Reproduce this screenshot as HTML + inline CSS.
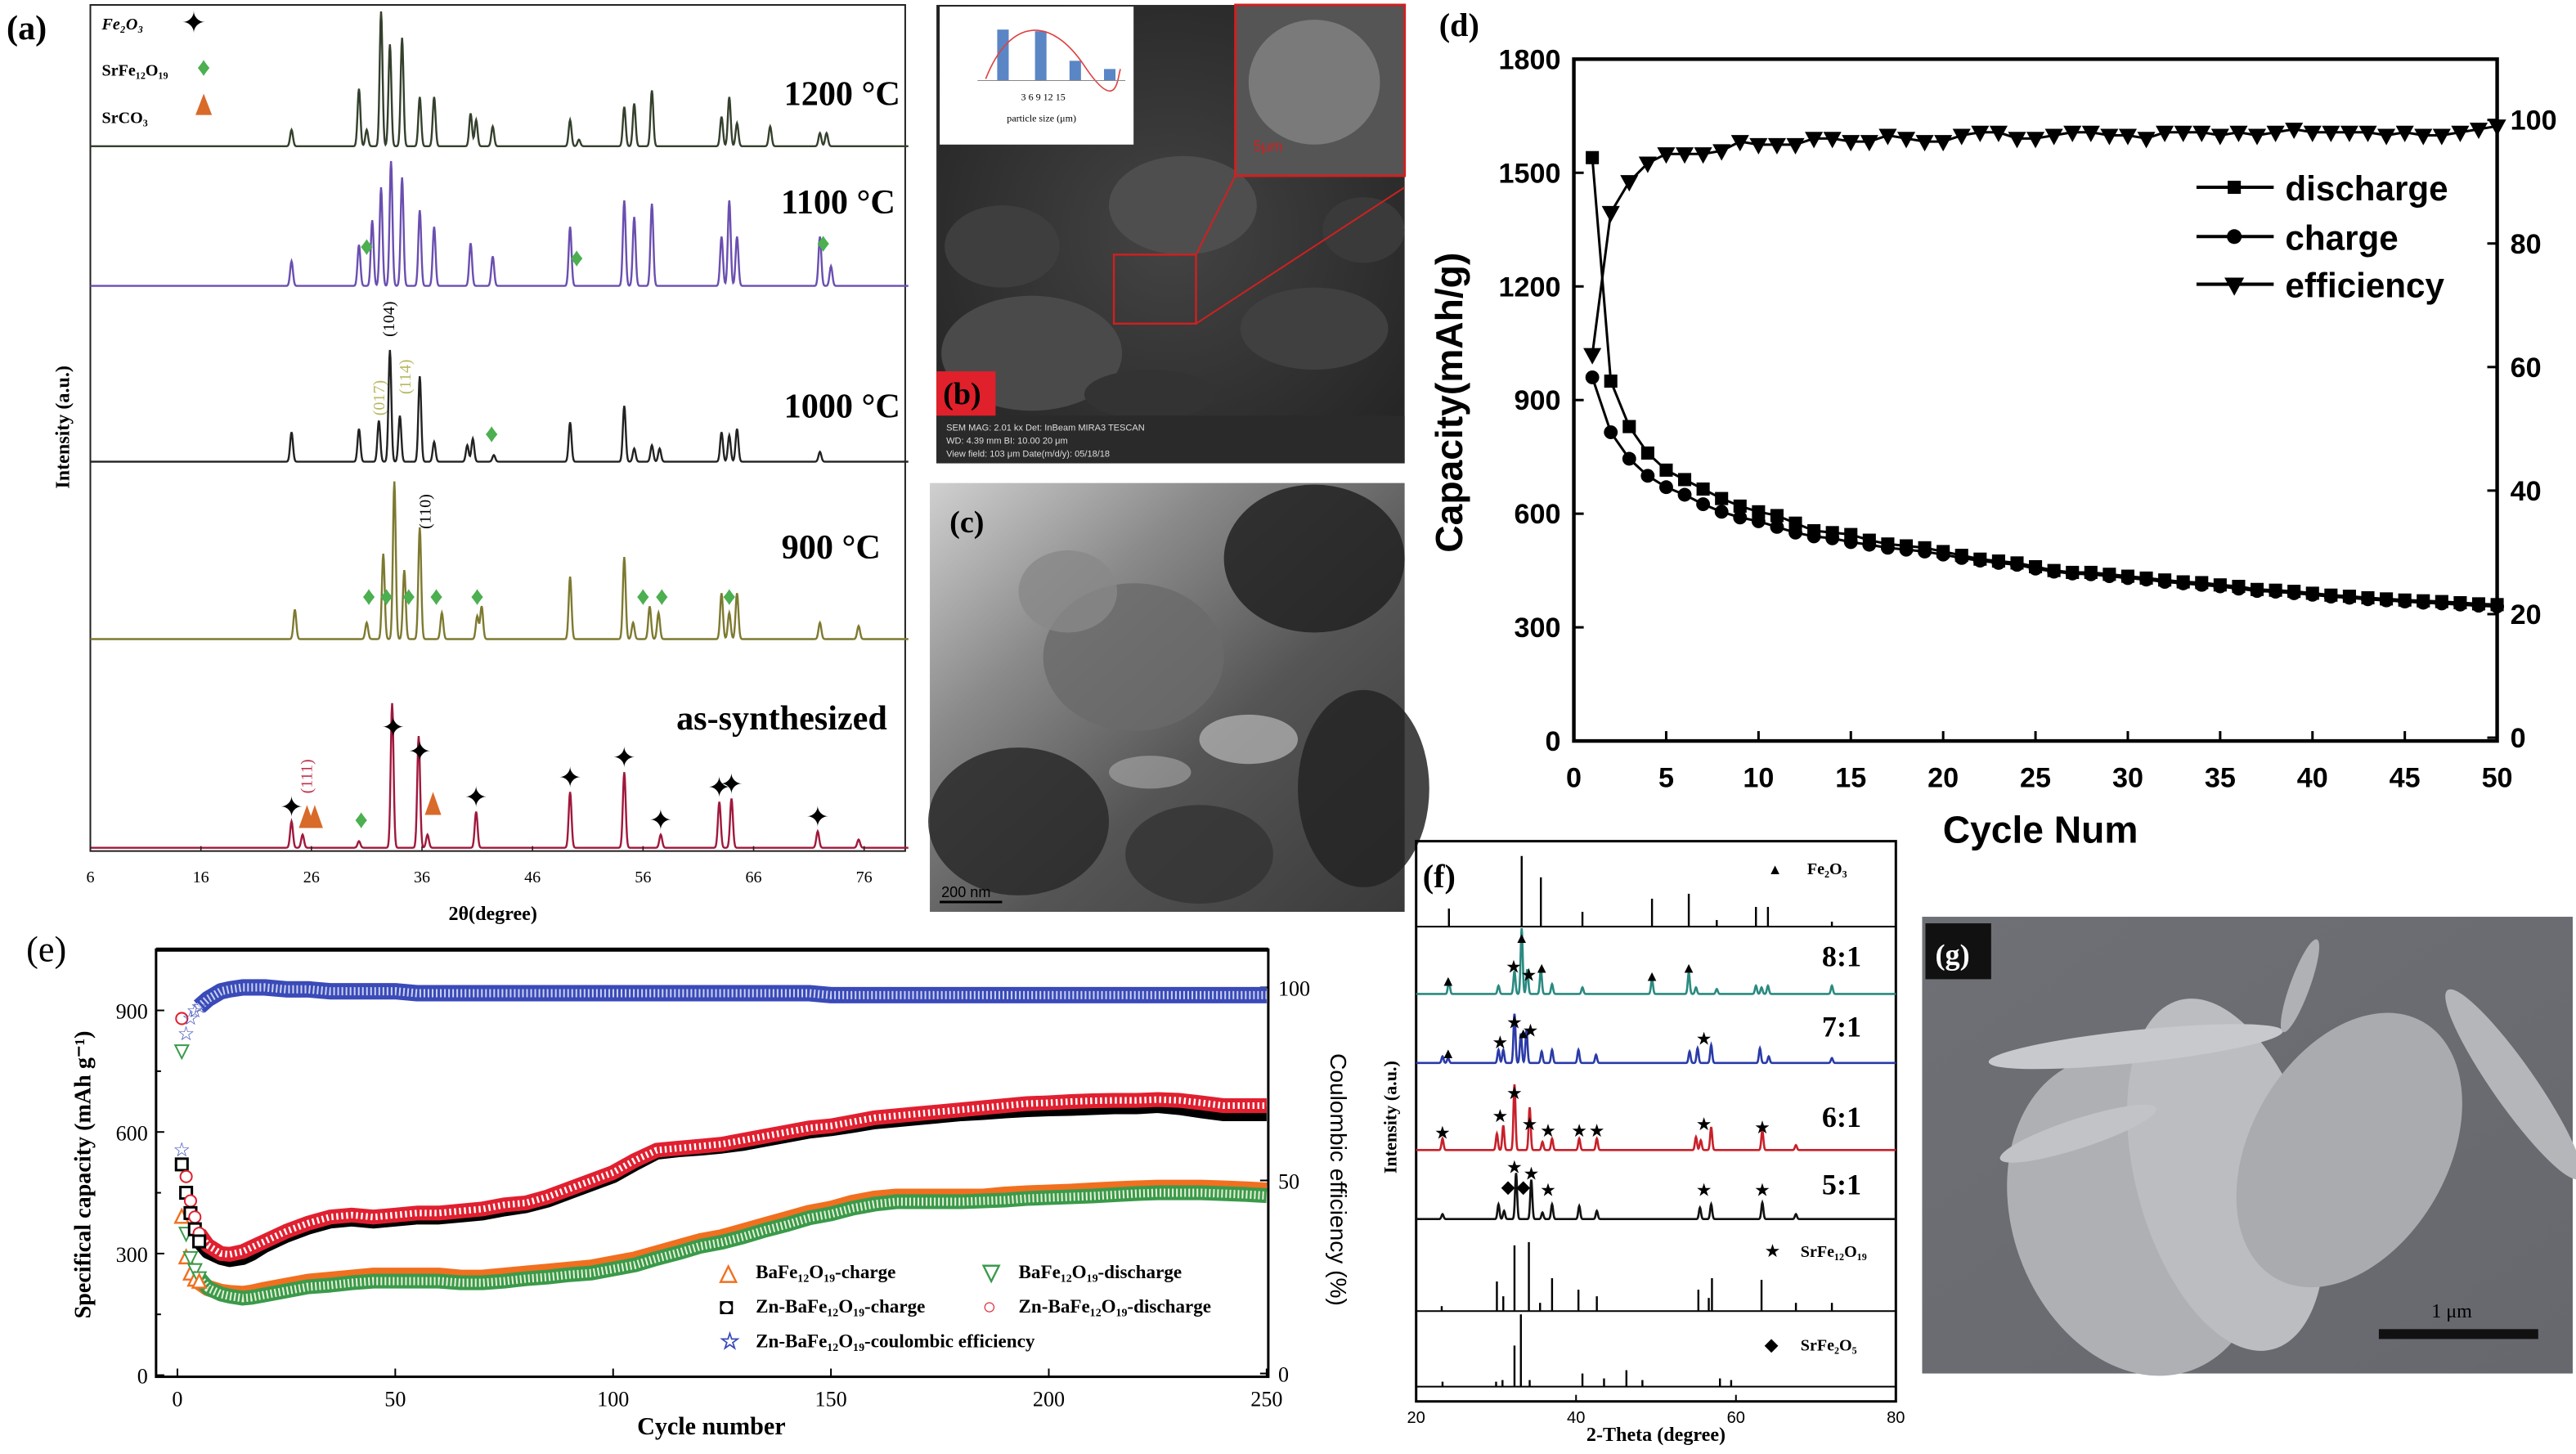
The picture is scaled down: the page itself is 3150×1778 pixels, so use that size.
<!DOCTYPE html>
<html><head><meta charset="utf-8">
<style>
html,body{margin:0;padding:0;background:#fff;}
svg{display:block;}
text{font-family:"Liberation Serif",serif;}
.sans{font-family:"Liberation Sans",sans-serif;}
</style></head>
<body>
<svg id="fig" xmlns="http://www.w3.org/2000/svg" width="3150" height="1778" viewBox="0 0 1568 885" preserveAspectRatio="none">
<rect x="0" y="0" width="1568" height="885" fill="#fff"/>

<g id="pa">
<text x="4" y="24" font-size="21" font-weight="bold">(a)</text>
<rect x="55" y="3" width="496" height="515" fill="none" stroke="#222" stroke-width="1"/>
<text x="42" y="260" font-size="12" font-weight="bold" transform="rotate(-90 42 260)" text-anchor="middle">Intensity (a.u.)</text>
<text x="300" y="560" font-size="12" font-weight="bold" text-anchor="middle">2θ(degree)</text>
<text x="548" y="64" font-size="21" font-weight="bold" text-anchor="end">1200 °C</text>
<text x="545" y="130" font-size="21" font-weight="bold" text-anchor="end">1100 °C</text>
<text x="548" y="254" font-size="21" font-weight="bold" text-anchor="end">1000 °C</text>
<text x="536" y="340" font-size="21" font-weight="bold" text-anchor="end">900 °C</text>
<text x="540" y="444" font-size="21" font-weight="bold" text-anchor="end">as-synthesized</text>
<text x="62" y="18" font-size="10" font-style="italic" font-weight="bold">Fe₂O₃</text>
<text x="62" y="46" font-size="10" font-weight="bold">SrFe₁₂O₁₉</text>
<text x="62" y="75" font-size="10" font-weight="bold">SrCO₃</text>
<text x="240" y="205" font-size="10" transform="rotate(-90 240 205)">(104)</text>
<text x="234" y="253" font-size="10" fill="#b8b860" transform="rotate(-90 234 253)">(017)</text>
<text x="250" y="240" font-size="10" fill="#b8b860" transform="rotate(-90 250 240)">(114)</text>
<text x="262" y="322" font-size="10" transform="rotate(-90 262 322)">(110)</text>
<text x="190" y="483" font-size="10" fill="#c0304a" transform="rotate(-90 190 483)">(111)</text>
</g>

<g>
<defs>
<radialGradient id="gb" cx="0.5" cy="0.5" r="0.7"><stop offset="0" stop-color="#444"/><stop offset="1" stop-color="#222"/></radialGradient>
<linearGradient id="gc" x1="0" y1="0" x2="1" y2="1"><stop offset="0" stop-color="#d0d0d0"/><stop offset="0.3" stop-color="#8a8a8a"/><stop offset="0.6" stop-color="#555"/><stop offset="1" stop-color="#3a3a3a"/></linearGradient>
<linearGradient id="gg" x1="0" y1="0" x2="1" y2="1"><stop offset="0" stop-color="#6e7076"/><stop offset="1" stop-color="#66686e"/></linearGradient>
</defs>
<rect x="570" y="3" width="285" height="279" fill="url(#gb)"/>
<ellipse cx="628" cy="215" rx="55" ry="35" fill="#4a4a4a"/>
<ellipse cx="720" cy="125" rx="45" ry="30" fill="#4e4e4e"/>
<ellipse cx="610" cy="150" rx="35" ry="25" fill="#3e3e3e"/>
<ellipse cx="800" cy="200" rx="45" ry="25" fill="#404040"/>
<ellipse cx="830" cy="140" rx="25" ry="20" fill="#3a3a3a"/>
<ellipse cx="700" cy="240" rx="40" ry="15" fill="#333"/>
<rect x="752" y="3" width="103" height="104" fill="#555" stroke="#d02020" stroke-width="1.5"/>
<ellipse cx="800" cy="50" rx="40" ry="38" fill="#7a7a7a"/>
<rect x="678" y="155" width="50" height="42" fill="none" stroke="#d02020" stroke-width="1.2"/>
<line x1="728" y1="155" x2="752" y2="107" stroke="#d02020" stroke-width="1"/>
<line x1="728" y1="197" x2="855" y2="114" stroke="#d02020" stroke-width="1"/>
<text x="763" y="92" font-size="9" fill="#d02020" class="sans">5μm</text>
<rect x="572" y="4" width="118" height="84" fill="#fff"/>
<rect x="607" y="18" width="7" height="31" fill="#5b86c5"/><rect x="630" y="19" width="7" height="30" fill="#5b86c5"/><rect x="651" y="37" width="7" height="12" fill="#5b86c5"/><rect x="672" y="42" width="7" height="7" fill="#5b86c5"/>
<path d="M600 48 C615 10,640 10,660 40 S680 48,682 42" fill="none" stroke="#e04040" stroke-width="0.8"/>
<line x1="595" y1="49" x2="685" y2="49" stroke="#888" stroke-width="0.5"/>
<text x="634" y="74" font-size="6" text-anchor="middle">particle size (μm)</text>
<text x="635" y="61" font-size="6" text-anchor="middle">3      6      9     12    15</text>
<rect x="570" y="253" width="285" height="29" fill="#2a2a2a"/>
<text x="576" y="262" font-size="5.5" fill="#ddd" class="sans">SEM MAG: 2.01 kx     Det: InBeam                                   MIRA3 TESCAN</text>
<text x="576" y="270" font-size="5.5" fill="#ddd" class="sans">WD: 4.39 mm          BI: 10.00           20 μm</text>
<text x="576" y="278" font-size="5.5" fill="#ddd" class="sans">View field: 103 μm   Date(m/d/y): 05/18/18</text>
<rect x="570" y="226" width="36" height="27" fill="#e0202a"/>
<text x="574" y="246" font-size="19" font-weight="bold">(b)</text>
</g>

<g>
<rect x="566" y="294" width="289" height="261" fill="url(#gc)"/>
<ellipse cx="690" cy="400" rx="55" ry="45" fill="#6a6a6a" opacity="0.8"/>
<ellipse cx="800" cy="340" rx="55" ry="45" fill="#222" opacity="0.85"/>
<ellipse cx="620" cy="500" rx="55" ry="45" fill="#2a2a2a" opacity="0.85"/>
<ellipse cx="830" cy="480" rx="40" ry="60" fill="#252525" opacity="0.85"/>
<ellipse cx="730" cy="520" rx="45" ry="30" fill="#333" opacity="0.8"/>
<ellipse cx="650" cy="360" rx="30" ry="25" fill="#888" opacity="0.8"/>
<ellipse cx="760" cy="450" rx="30" ry="15" fill="#ccc" opacity="0.6"/>
<ellipse cx="700" cy="470" rx="25" ry="10" fill="#bbb" opacity="0.5"/>
<text x="578" y="324" font-size="19" font-weight="bold">(c)</text>
<line x1="572" y1="549" x2="610" y2="549" stroke="#000" stroke-width="1.5"/>
<text x="573" y="546" font-size="9" class="sans">200 nm</text>
</g>

<g>
<rect x="1170" y="558" width="396" height="278" fill="url(#gg)"/>
<ellipse cx="1300" cy="740" rx="75" ry="100" fill="#aeb0b4" transform="rotate(-20 1300 740)"/>
<ellipse cx="1355" cy="715" rx="55" ry="110" fill="#bcbdc0" transform="rotate(-15 1355 715)"/>
<ellipse cx="1430" cy="700" rx="60" ry="90" fill="#a9abaf" transform="rotate(30 1430 700)"/>
<ellipse cx="1300" cy="637" rx="90" ry="10" fill="#c8c9cc" transform="rotate(-6 1300 637)"/>
<ellipse cx="1265" cy="690" rx="50" ry="9" fill="#c2c3c6" transform="rotate(-18 1265 690)"/>
<ellipse cx="1530" cy="660" rx="70" ry="13" fill="#b5b6b9" transform="rotate(55 1530 660)"/>
<ellipse cx="1400" cy="600" rx="30" ry="6" fill="#b0b1b4" transform="rotate(-70 1400 600)"/>
<rect x="1172" y="562" width="40" height="34" fill="#111"/>
<text x="1178" y="587" font-size="18" fill="#fff" font-weight="bold">(g)</text>
<text x="1480" y="802" font-size="12">1 μm</text>
<rect x="1448" y="809" width="97" height="6" fill="#111"/>
</g>

<g id="pd">
<text x="876" y="22" font-size="20" font-weight="bold">(d)</text>
<rect x="958" y="36" width="562" height="415" fill="none" stroke="#000" stroke-width="2.2"/>
<text x="890" y="245" font-size="23" font-weight="bold" class="sans" transform="rotate(-90 890 245)" text-anchor="middle">Capacity(mAh/g)</text>
<text x="1242" y="513" font-size="23" font-weight="bold" class="sans" text-anchor="middle">Cycle Num</text>
</g>

<g id="pe">
<text x="16" y="585" font-size="22">(e)</text>
<rect x="95" y="578" width="677" height="260" fill="none" stroke="#000" stroke-width="1.5"/>
<line x1="95" y1="578" x2="772" y2="578" stroke="#000" stroke-width="2.5"/>
<text x="55" y="715" font-size="14" font-weight="bold" transform="rotate(-90 55 715)" text-anchor="middle">Specifical capacity (mAh g⁻¹)</text>
<text x="810" y="718" font-size="14" class="sans" transform="rotate(90 810 718)" text-anchor="middle">Coulombic efficiency (%)</text>
<text x="433" y="873" font-size="15" font-weight="bold" text-anchor="middle">Cycle number</text>
</g>

<g id="pf">
<rect x="862" y="512" width="292" height="341" fill="none" stroke="#000" stroke-width="1.5"/>
<text x="866" y="540" font-size="20" font-weight="bold">(f)</text>
<text x="850" y="680" font-size="11" font-weight="bold" transform="rotate(-90 850 680)" text-anchor="middle">Intensity (a.u.)</text>
<text x="1008" y="877" font-size="12" font-weight="bold" text-anchor="middle">2-Theta (degree)</text>
<text x="1100" y="532" font-size="10" font-weight="bold">Fe₂O₃</text>
<text x="1076" y="532" font-size="9">▲</text>
<text x="1096" y="765" font-size="10" font-weight="bold">SrFe₁₂O₁₉</text>
<text x="1074" y="765" font-size="11">★</text>
<text x="1096" y="822" font-size="10" font-weight="bold">SrFe₂O₅</text>
<text x="1074" y="822" font-size="11">◆</text>
<text x="1133" y="588" font-size="18" font-weight="bold" text-anchor="end">8:1</text>
<text x="1133" y="631" font-size="18" font-weight="bold" text-anchor="end">7:1</text>
<text x="1133" y="686" font-size="18" font-weight="bold" text-anchor="end">6:1</text>
<text x="1133" y="727" font-size="18" font-weight="bold" text-anchor="end">5:1</text>
</g>
</svg>
<script>
// ===== Panel a data =====
const aTicks = [6,16,26,36,46,56,66,76];
const a1200Pos = [24.2,30.3,31,32.3,33.1,34.2,35.8,37.1,40.4,40.9,42.4,49.4,50.2,54.3,55.2,56.8,63.1,63.8,64.5,67.5,72,72.6];
const a1200H   = [10,35,10,82,62,66,30,30,20,16,12,16,4,24,26,34,18,30,14,12,8,8];
const a1100Pos = [24.2,30.3,31.5,32.3,33.2,34.2,35.8,37.1,40.4,42.4,49.4,54.3,55.2,56.8,63.1,63.8,64.5,72,73];
const a1100H   = [15,25,40,60,76,66,46,36,26,18,36,52,42,50,30,52,30,30,12];
const a1000Pos = [24.2,30.3,32.1,33.1,34.0,35.8,37.1,40.1,40.6,42.5,49.4,54.3,55.2,56.8,57.5,63.1,63.8,64.5,72];
const a1000H   = [18,20,25,68,28,52,12,10,14,4,24,34,8,10,8,18,16,20,6];
const a900Pos  = [24.5,31,32.5,33.5,34.4,35.8,37.8,41,41.4,49.4,54.3,55.1,56.6,57.4,63.1,63.8,64.5,72,75.5];
const a900H    = [18,10,52,96,42,68,16,14,20,38,50,10,20,16,28,16,28,10,8];
const aAsPos   = [24.2,25.2,30.3,33.3,35.7,36.5,40.9,49.4,54.3,57.6,62.9,64,71.8,75.5];
const aAsH     = [16,8,4,88,68,8,22,34,46,8,28,30,10,5];
const aStarPos = [24.2,33.4,35.8,40.9,49.4,54.3,57.6,62.9,64,71.8];
const aDiam900 = [31.2,32.8,34.8,37.3,41,56,57.7,63.8];

// ===== Panel d data =====
const dCycles = [1,2,3,4,5,6,7,8,9,10,11,12,13,14,15,16,17,18,19,20,21,22,23,24,25,26,27,28,29,30,31,32,33,34,35,36,37,38,39,40,41,42,43,44,45,46,47,48,49,50];
const dDischarge = [1540,950,830,760,715,690,665,640,620,605,595,575,555,550,545,530,520,515,510,500,490,480,475,470,460,450,445,445,440,435,430,425,420,418,412,408,400,398,395,390,385,382,378,375,372,370,368,365,362,360];
const dCharge = [960,815,745,700,670,650,625,605,590,580,565,550,540,535,525,518,510,505,500,492,483,476,470,465,455,447,442,440,435,430,426,420,416,412,408,402,396,394,390,386,381,378,374,371,368,365,363,360,357,355];
const dEff = [62,85,90,93,94.5,94.5,94.5,95,96.5,96,96,96,97,97,96.5,96.5,97.5,97,96.5,96.5,97.5,98,98,97,97,97.5,98,98,97.5,97.5,97,98,98,98,97.5,98,97.5,98,98.5,98,98,98,98,97.5,98,97.5,97.5,98,98.5,99];
const dLeftTicks = [0,300,600,900,1200,1500,1800];
const dRightTicks = [0,20,40,60,80,100];
const dXTicks = [0,5,10,15,20,25,30,35,40,45,50];

// ===== Panel e data =====
const eCycles = [1,2,3,4,5,7,10,12,15,17,20,25,30,35,40,45,50,55,60,65,70,75,80,85,90,95,100,105,110,115,120,125,130,135,140,145,150,155,160,165,170,175,180,185,190,195,200,205,210,215,220,225,230,235,240,245,250];
const eZnDis = [880,490,430,390,350,320,300,298,305,315,330,355,375,390,395,390,395,400,400,405,410,420,425,440,460,480,500,530,555,560,565,570,580,590,600,610,615,625,635,640,645,650,655,660,665,670,672,675,677,678,678,680,678,672,665,665,665];
const eZnChg = [520,450,400,360,330,305,290,285,290,300,320,345,365,380,385,380,385,390,390,395,400,410,418,432,452,472,492,522,550,556,560,565,572,582,592,602,608,616,625,630,635,640,645,648,652,655,657,658,660,662,662,665,660,652,645,645,645];
const eBaChg = [390,290,250,235,230,215,205,202,200,203,210,220,230,235,240,245,245,245,245,240,240,245,250,255,260,265,275,285,300,315,330,340,355,370,385,400,410,425,435,440,440,440,440,440,445,448,450,452,455,458,460,462,462,462,460,458,455];
const eBaDis = [800,350,290,260,240,215,200,195,190,192,198,208,218,222,228,232,232,232,232,228,228,232,238,242,248,252,262,272,288,302,318,328,342,358,372,388,398,412,422,428,428,428,428,430,432,436,438,440,442,445,448,450,450,450,448,446,443];
const eEff = [58,88,92,94,95,97,99,99.5,100,100,100,99.5,99.5,99,99,99,99,98.5,98.5,98.5,98.5,98.5,98.5,98.5,98.5,98.5,98.5,98.5,98.5,98.5,98.5,98.5,98.5,98.5,98.5,98.5,98,98,98,98,98,98,98,98,98,98,98,98,98,98,98,98,98,98,98,98,98];
const eLeftTicks = [0,300,600,900];
const eRightTicks = [0,50,100];
const eXTicks = [0,50,100,150,200,250];

// ===== Panel f data =====
const fTicks = [20,40,60,80];
const fFeRefPos = [24.1,33.2,35.6,40.8,49.5,54.1,57.6,62.5,64,72];
const fFeRefH = [11,43,30,9,17,20,4,12,12,3];
const f8Pos = [24.1,30.3,32.3,33.2,33.9,35.6,37,40.8,49.5,54.1,55,57.6,62.5,63.2,64,72];
const f8H = [8,5,14,40,15,15,6,4,9,13,4,3,5,4,5,5];
const f7Pos = [23.3,24,30.3,30.9,32.3,33.1,33.8,35.7,37,40.3,42.5,54.2,55.2,56.9,63,64.1,72];
const f7H = [4,3,8,8,30,18,20,7,8,8,5,7,9,11,9,4,3];
const f6Pos = [23.3,30.1,30.9,32.3,34.2,35.8,37,40.4,42.6,55,55.6,56.9,63.3,67.5];
const f6H = [7,10,15,40,26,5,7,7,7,8,6,14,12,3];
const f5Pos = [23.3,30.3,31,32.5,34.4,35.8,37,40.4,42.6,55.5,56.9,63.3,67.5];
const f5H = [3,9,5,28,24,4,9,8,5,7,9,10,3];
const fSrRefPos = [23.2,30.1,30.9,32.3,34.1,35.5,37,40.3,42.6,55.3,56.6,57,63.2,67.5,72];
const fSrRefH = [3,18,9,40,42,5,20,13,9,13,8,20,19,5,5];
const fSr2RefPos = [23.3,30,30.8,32.3,33.1,34.2,40.8,43.5,46.3,48.3,58,59.4];
const fSr2RefH = [3,3,4,25,44,4,8,5,10,4,5,4];

const NS = "http://www.w3.org/2000/svg";
const fig = document.getElementById('fig');
function mk(tag, attrs, parent){ const e=document.createElementNS(NS,tag); for(const k in attrs) e.setAttribute(k,attrs[k]); (parent||fig).appendChild(e); return e; }

function xrdPath(pos, h, xs, x0, x1, base, w){
  let d='';
  for(let t=x0;t<=x1+1e-9;t+=0.05){
    let y=0; for(let i=0;i<pos.length;i++){ const u=(t-pos[i])/w; y+=h[i]*Math.exp(-u*u); }
    d+=(d?'L':'M')+xs(t).toFixed(2)+' '+(base-y).toFixed(2);
  }
  return d;
}
const pa=document.getElementById('pa');
const ax = t => 55 + (t-6)*(471/70);
const aSeries = [
 {p:a1200Pos,h:a1200H,b:89,c:'#34402c',n:'trace-1200c'},
 {p:a1100Pos,h:a1100H,b:174,c:'#6a4fb0',n:'trace-1100c'},
 {p:a1000Pos,h:a1000H,b:281,c:'#222',n:'trace-1000c'},
 {p:a900Pos,h:a900H,b:389,c:'#7d7a30',n:'trace-900c'},
 {p:aAsPos,h:aAsH,b:516,c:'#a0183c',n:'trace-as-synthesized'}];
aSeries.forEach(s=>{
  const el=mk('path',{d:xrdPath(s.p,s.h,ax,6,80,s.b,0.18),fill:'none',stroke:s.c,'stroke-width':1.2},pa);
  
  
});
aTicks.forEach(t=>{
  mk('line',{x1:ax(t),x2:ax(t),y1:518,y2:515,stroke:'#222','stroke-width':0.8},pa);
  const tx=mk('text',{x:ax(t),y:537,'font-size':10,'text-anchor':'middle'},pa); tx.textContent=t;
  
  
});
aStarPos.forEach(t=>{
  let y=516; for(let k=0;k<aAsPos.length;k++){const u=(t-aAsPos[k])/0.18; y-=aAsH[k]*Math.exp(-u*u);}
  const s=mk('text',{x:ax(t),y:y-3,'font-size':17,'text-anchor':'middle'},pa); s.textContent='✦';
  
  
});
aDiam900.forEach(t=>{
  const s=mk('text',{x:ax(t),y:368,'font-size':16,'text-anchor':'middle',fill:'#4caf50'},pa); s.textContent='♦';
  
  
});
[[31,155],[50,162],[72.3,153],[42.3,269],[30.5,504]].forEach(q=>{const s=mk('text',{x:ax(q[0]),y:q[1],'font-size':16,'text-anchor':'middle',fill:'#4caf50'},pa); s.textContent='♦';});
mk('text',{x:118,y:20,'font-size':18,'text-anchor':'middle'},pa).textContent='✦';
mk('text',{x:124,y:46,'font-size':16,'text-anchor':'middle',fill:'#4caf50'},pa).textContent='♦';
[[124,70,5,13],[ax(25.6),504,5,14],[ax(26.3),504,5,14],[ax(37),496,5,14]].forEach(q=>mk('polygon',{points:`${q[0]-q[2]},${q[1]} ${q[0]+q[2]},${q[1]} ${q[0]},${q[1]-q[3]}`,fill:'#d86a2a'},pa));

// Panel d
const pd=document.getElementById('pd');
const dx=c=>958+c*(562/50), dyL=v=>451-v*(415/1800), dyR=v=>449-v*3.76;
dLeftTicks.forEach(v=>{ mk('line',{x1:958,x2:964,y1:dyL(v),y2:dyL(v),stroke:'#000','stroke-width':1.5},pd);
  const t=mk('text',{x:950,y:dyL(v)+6,'font-size':17,'font-weight':'bold','text-anchor':'end',class:'sans'},pd); t.textContent=v;
    });
dRightTicks.forEach(v=>{ mk('line',{x1:1514,x2:1520,y1:dyR(v),y2:dyR(v),stroke:'#000','stroke-width':1.5},pd);
  const t=mk('text',{x:1528,y:dyR(v)+6,'font-size':17,'font-weight':'bold',class:'sans'},pd); t.textContent=v;
    });
dXTicks.forEach(v=>{ mk('line',{x1:dx(v),x2:dx(v),y1:451,y2:445,stroke:'#000','stroke-width':1.5},pd);
  const t=mk('text',{x:dx(v),y:479,'font-size':17,'font-weight':'bold','text-anchor':'middle',class:'sans'},pd); t.textContent=v;
    });
function line(xs,ys,fx,fy,parent,name,color,sw,extra){ const d=xs.map((x,i)=>(i?'L':'M')+fx(x).toFixed(2)+' '+fy(ys[i]).toFixed(2)).join(''); const a={d,fill:'none',stroke:color,'stroke-width':sw,'stroke-linejoin':'round'}; if(extra) for(const k in extra) a[k]=extra[k]; const p=mk('path',a,parent);   return p;}
line(dCycles,dDischarge,dx,dyL,pd,'discharge-line','#000',1.5);
line(dCycles,dCharge,dx,dyL,pd,'charge-line','#000',1.5);
line(dCycles,dEff,dx,dyR,pd,'efficiency-line','#000',1.5);
dCycles.forEach((c,i)=>{
  const x=dx(c);
  let y=dyL(dDischarge[i]); const sq=mk('rect',{x:x-4,y:y-4,width:8,height:8,fill:'#000'},pd);
   
  y=dyL(dCharge[i]); const ci=mk('circle',{cx:x,cy:y,r:4.2,fill:'#000'},pd);
   
  y=dyR(dEff[i]); const tr=mk('polygon',{points:`${x-5.5},${y-4} ${x+5.5},${y-4} ${x},${y+6}`,fill:'#000'},pd);
   
});
[['discharge',114,'sq'],['charge',144,'ci'],['efficiency',173,'tr']].forEach(l=>{
  mk('line',{x1:1337,x2:1384,y1:l[1],y2:l[1],stroke:'#000','stroke-width':2},pd);
  const x=1360,y=l[1];
  if(l[2]=='sq') mk('rect',{x:x-4,y:y-4,width:8,height:8},pd);
  if(l[2]=='ci') mk('circle',{cx:x,cy:y,r:4.5},pd);
  if(l[2]=='tr') mk('polygon',{points:`${x-6},${y-4} ${x+6},${y-4} ${x},${y+7}`},pd);
  const t=mk('text',{x:1391,y:y+8,'font-size':21,'font-weight':'bold',class:'sans'},pd); t.textContent=l[0];
   
});

// Panel e
const pe=document.getElementById('pe');
const ex=c=>108+c*(663/250), eyL=v=>837-v*(74/300), eyR=v=>836-v*2.35;
eLeftTicks.forEach(v=>{ mk('line',{x1:95,x2:100,y1:eyL(v),y2:eyL(v),stroke:'#000'},pe);
  const t=mk('text',{x:90,y:eyL(v)+5,'font-size':13,'text-anchor':'end'},pe); t.textContent=v;
    });
[150,450,750].forEach(v=>mk('line',{x1:95,x2:98,y1:eyL(v),y2:eyL(v),stroke:'#000'},pe));
eRightTicks.forEach(v=>{ mk('line',{x1:767,x2:772,y1:eyR(v),y2:eyR(v),stroke:'#000'},pe);
  const t=mk('text',{x:778,y:eyR(v)+5,'font-size':13},pe); t.textContent=v;
    });
eXTicks.forEach(v=>{ mk('line',{x1:ex(v),x2:ex(v),y1:838,y2:833,stroke:'#000'},pe);
  const t=mk('text',{x:ex(v),y:856,'font-size':13,'text-anchor':'middle'},pe); t.textContent=v;
    });
const eStart=5; // bands drawn from cycle index 4 onward; early cycles shown as scattered markers
const sl=a=>a.slice(4);
line(sl(eCycles),sl(eZnChg),ex,eyL,pe,'zn-charge-line','#000',9);
line(sl(eCycles),sl(eBaChg),ex,eyL,pe,'ba-charge-line','#f07020',10);
line(sl(eCycles),sl(eBaDis),ex,eyL,pe,'ba-discharge-line','#3a9a4a',9);
line(sl(eCycles),sl(eBaDis),ex,eyL,pe,'ba-discharge-hatch','#e8f0d8',5,{'stroke-dasharray':'1 1.5'});
line(sl(eCycles),sl(eZnDis),ex,eyL,pe,'zn-discharge-line','#e02030',9);
line(sl(eCycles),sl(eZnDis),ex,eyL,pe,'zn-discharge-hatch','#fff',4,{'stroke-dasharray':'1.2 1.8'});
line(sl(eCycles),sl(eEff),ex,eyR,pe,'zn-efficiency-line','#3a4ab8',10);
line(sl(eCycles),sl(eEff),ex,eyR,pe,'zn-efficiency-hatch','#c8d0f0',5,{'stroke-dasharray':'1 1.5'});
eCycles.forEach((c,i)=>{
  if(i>=5) return;
  const x=ex(c);
  let o=mk('circle',{cx:x,cy:eyL(eZnDis[i]),r:3.5,fill:'#fff',stroke:'#e02030','stroke-width':1},pe);
   
  o=mk('rect',{x:x-3.5,y:eyL(eZnChg[i])-3.5,width:7,height:7,fill:'#fff',stroke:'#000','stroke-width':1.5},pe);
   
  let y=eyL(eBaDis[i]); o=mk('polygon',{points:`${x-4},${y-3.5} ${x+4},${y-3.5} ${x},${y+4.5}`,fill:'#fff',stroke:'#3a9a4a','stroke-width':1},pe);
   
  y=eyL(eBaChg[i]); o=mk('polygon',{points:`${x-4},${y+3.5} ${x+4},${y+3.5} ${x},${y-4.5}`,fill:'#fff',stroke:'#f07020','stroke-width':1.2},pe);
   
  o=mk('text',{x:x,y:eyR(eEff[i])+4,'font-size':12,'text-anchor':'middle',fill:'#3a4ab8'},pe); o.textContent='☆';
   
});
const eLeg=[['BaFe₁₂O₁₉-charge',460,774,'#f07020','△'],['BaFe₁₂O₁₉-discharge',620,774,'#3a9a4a','▽'],['Zn-BaFe₁₂O₁₉-charge',460,795,'#000','◘'],['Zn-BaFe₁₂O₁₉-discharge',620,795,'#e02030','○'],['Zn-BaFe₁₂O₁₉-coulombic efficiency',460,816,'#3a4ab8','☆']];
eLeg.forEach(l=>{ const s=mk('text',{x:l[1]-22,y:l[2]+5,'font-size':14,'font-weight':'bold',fill:l[3]},pe); s.textContent=l[4];
  const t=mk('text',{x:l[1],y:l[2]+4,'font-size':11.5,'font-weight':'bold'},pe); t.textContent=l[0];
    });

// Panel f
const pf=document.getElementById('pf');
const fx=t=>862+(t-20)*(292/60);
[564,798,844].forEach(y=>mk('line',{x1:862,x2:1154,y1:y,y2:y,stroke:'#000','stroke-width':1},pf));
function bars(pos,h,base,name){ pos.forEach((p,i)=>{ const b=mk('line',{x1:fx(p),x2:fx(p),y1:base,y2:base-h[i],stroke:'#000','stroke-width':1.2},pf);
    }); }
bars(fFeRefPos,fFeRefH,564,'fe2o3-ref-bar');
bars(fSrRefPos,fSrRefH,798,'srfe12o19-ref-bar');
bars(fSr2RefPos,fSr2RefH,844,'srfe2o5-ref-bar');
[{p:f8Pos,h:f8H,b:605,c:'#2a8a80',n:'trace-8-1'},{p:f7Pos,h:f7H,b:647,c:'#2a3aa8',n:'trace-7-1'},{p:f6Pos,h:f6H,b:700,c:'#c8202a',n:'trace-6-1'},{p:f5Pos,h:f5H,b:742,c:'#111',n:'trace-5-1'}].forEach(s=>{
  const el=mk('path',{d:xrdPath(s.p,s.h,fx,20,80,s.b,0.18),fill:'none',stroke:s.c,'stroke-width':1.3},pf);
   
});
fTicks.forEach(t=>{ mk('line',{x1:fx(t),x2:fx(t),y1:853,y2:849,stroke:'#000'},pf);
  const tx=mk('text',{x:fx(t),y:866,'font-size':10,'text-anchor':'middle',class:'sans'},pf); tx.textContent=t;
    });
[[24,596,'▲'],[33.2,570,'▲'],[32.2,588,'★'],[34.1,593,'★'],[35.7,588,'▲'],[49.5,593,'▲'],[54.1,588,'▲'],
 [24,640,'▲'],[30.5,634,'★'],[32.3,622,'★'],[33.4,628,'▲'],[34.3,627,'★'],[56,632,'★'],
 [23.3,689,'★'],[30.5,679,'★'],[32.3,665,'★'],[34.2,684,'★'],[36.5,688,'★'],[40.4,688,'★'],[42.6,688,'★'],[56,684,'★'],[63.3,686,'★'],
 [32.3,710,'★'],[34.4,714,'★'],[36.5,724,'★'],[31.5,722,'◆'],[33.4,722,'◆'],[56,724,'★'],[63.3,724,'★']].forEach(m=>{
  const s=mk('text',{x:fx(m[0]),y:m[1]+4,'font-size':m[2]=='▲'?9:11,'text-anchor':'middle'},pf); s.textContent=m[2];
   
});
</script>
</body></html>
